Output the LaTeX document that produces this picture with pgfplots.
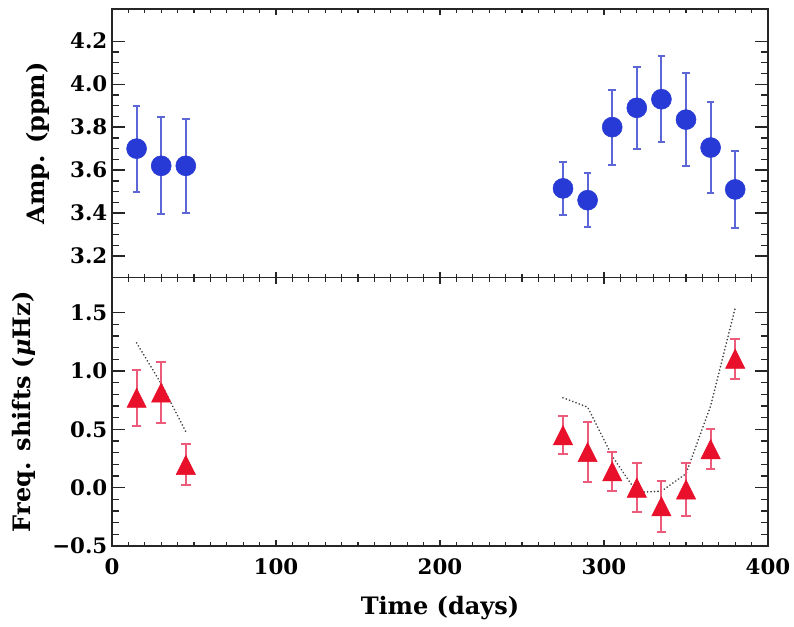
\documentclass[border=0pt]{standalone}
\usepackage{fontspec}
\setmainfont{DejaVu Serif}
\usepackage{pgfplots}
\pgfplotsset{compat=1.18}
\usetikzlibrary{calc}

\definecolor{dotblue}{RGB}{40,58,214}
\definecolor{barblue}{RGB}{92,102,214}
\definecolor{trired}{RGB}{232,16,42}
\definecolor{barred}{RGB}{236,92,122}

% IDL-style triangle, centred on its bounding box
\pgfdeclareplotmark{itri*}{%
  \pgfpathmoveto{\pgfqpoint{0pt}{\pgfplotmarksize}}%
  \pgfpathlineto{\pgfqpoint{-\pgfplotmarksize}{-\pgfplotmarksize}}%
  \pgfpathlineto{\pgfqpoint{\pgfplotmarksize}{-\pgfplotmarksize}}%
  \pgfpathclose
  \pgfusepathqfillstroke
}

\pgfplotsset{
  idl/.style={
    width=492pt, height=201.4pt, scale only axis,
    xmin=0, xmax=400,
    xtick={0,100,200,300,400}, minor x tick num=9,
    tick align=inside, xtick pos=both, ytick pos=both,
    axis line style={line width=1.2pt, black!85},
    tick style={line width=1pt, black!85},
    major tick length=9.75pt, minor tick length=5pt,
    xtick style={/pgfplots/major tick length=4.5pt, /pgfplots/minor tick length=3pt},
    tick label style={font=\fontsize{16}{16}\selectfont\bfseries},
    /pgf/number format/assume math mode=true,
    label style={font=\fontsize{18}{18}\selectfont\bfseries},
  },
  model/.style={line width=1.4pt, color=black!75, dash pattern=on 0.01pt off 2.6pt, line cap=round},
}

\begin{document}
\begin{tikzpicture}
\begin{axis}[idl, name=top,
  ymin=3.1, ymax=4.35,
  ytick={3.2,3.4,3.6,3.8,4.0,4.2},
  yticklabels={3.2,3.4,3.6,3.8,4.0,4.2},
  minor y tick num=3,
  xticklabels={},
  ylabel={Amp. (ppm)},
  ylabel style={at={(axis description cs:-0.113,0.5)}, anchor=center},
]
\addplot[only marks, mark=*, mark size=7.5pt, color=dotblue,
  error bars/.cd, y dir=both, y explicit,
  error bar style={line width=1.5pt, color=barblue},
  error mark options={rotate=90, mark size=2.8pt, line width=1.5pt, color=barblue}]
  coordinates {
  (15,3.70) +- (0,0.20)
  (30,3.62) +- (0,0.225)
  (45,3.62) +- (0,0.22)
  (275,3.515) +- (0,0.125)
  (290,3.46) +- (0,0.127)
  (305,3.80) +- (0,0.175)
  (320,3.89) +- (0,0.19)
  (335,3.93) +- (0,0.20)
  (350,3.835) +- (0,0.215)
  (365,3.705) +- (0,0.21)
  (380,3.51) +- (0,0.18)
};
\end{axis}

\begin{axis}[idl, name=bot,
  at={(top.south west)}, anchor=north west,
  ymin=-0.5, ymax=1.8,
  ytick={-0.5,0,0.5,1.0,1.5},
  yticklabels={−0.5,0.0,0.5,1.0,1.5},
  minor y tick num=4,
  xticklabels={0,100,200,300,400},
  xticklabel style={yshift=-6pt},
  xlabel={Time (days)},
  xlabel style={yshift=-9pt},
  ylabel={Freq. shifts ({\itshape μ}Hz)},
  ylabel style={at={(axis description cs:-0.135,0.5)}, anchor=center},
]
% model curves
\addplot[model] coordinates {
  (15,1.24) (30,0.89) (45,0.48)
};
\addplot[model] coordinates {
  (275,0.77) (290,0.69) (305,0.27) (320,-0.04) (335,-0.03) (350,0.12) (365,0.70) (380,1.54)
};
\addplot[only marks, mark=itri*, mark size=7.2pt, color=trired,
  error bars/.cd, y dir=both, y explicit,
  error bar style={line width=1.5pt, color=barred},
  error mark options={rotate=90, mark size=3.6pt, line width=1.5pt, color=barred}]
  coordinates {
  (15,0.77) +- (0,0.24)
  (30,0.815) +- (0,0.26)
  (45,0.195) +- (0,0.175)
  (275,0.45) +- (0,0.16)
  (290,0.305) +- (0,0.26)
  (305,0.14) +- (0,0.165)
  (320,0.0) +- (0,0.21)
  (335,-0.16) +- (0,0.22)
  (350,-0.015) +- (0,0.225)
  (365,0.33) +- (0,0.17)
  (380,1.105) +- (0,0.17)
};
\end{axis}
\pgfresetboundingbox
\path[use as bounding box] ($(bot.south west)+(-84pt,-60pt)$) rectangle ($(top.north east)+(19.5pt,6.75pt)$);
\end{tikzpicture}
\end{document}
